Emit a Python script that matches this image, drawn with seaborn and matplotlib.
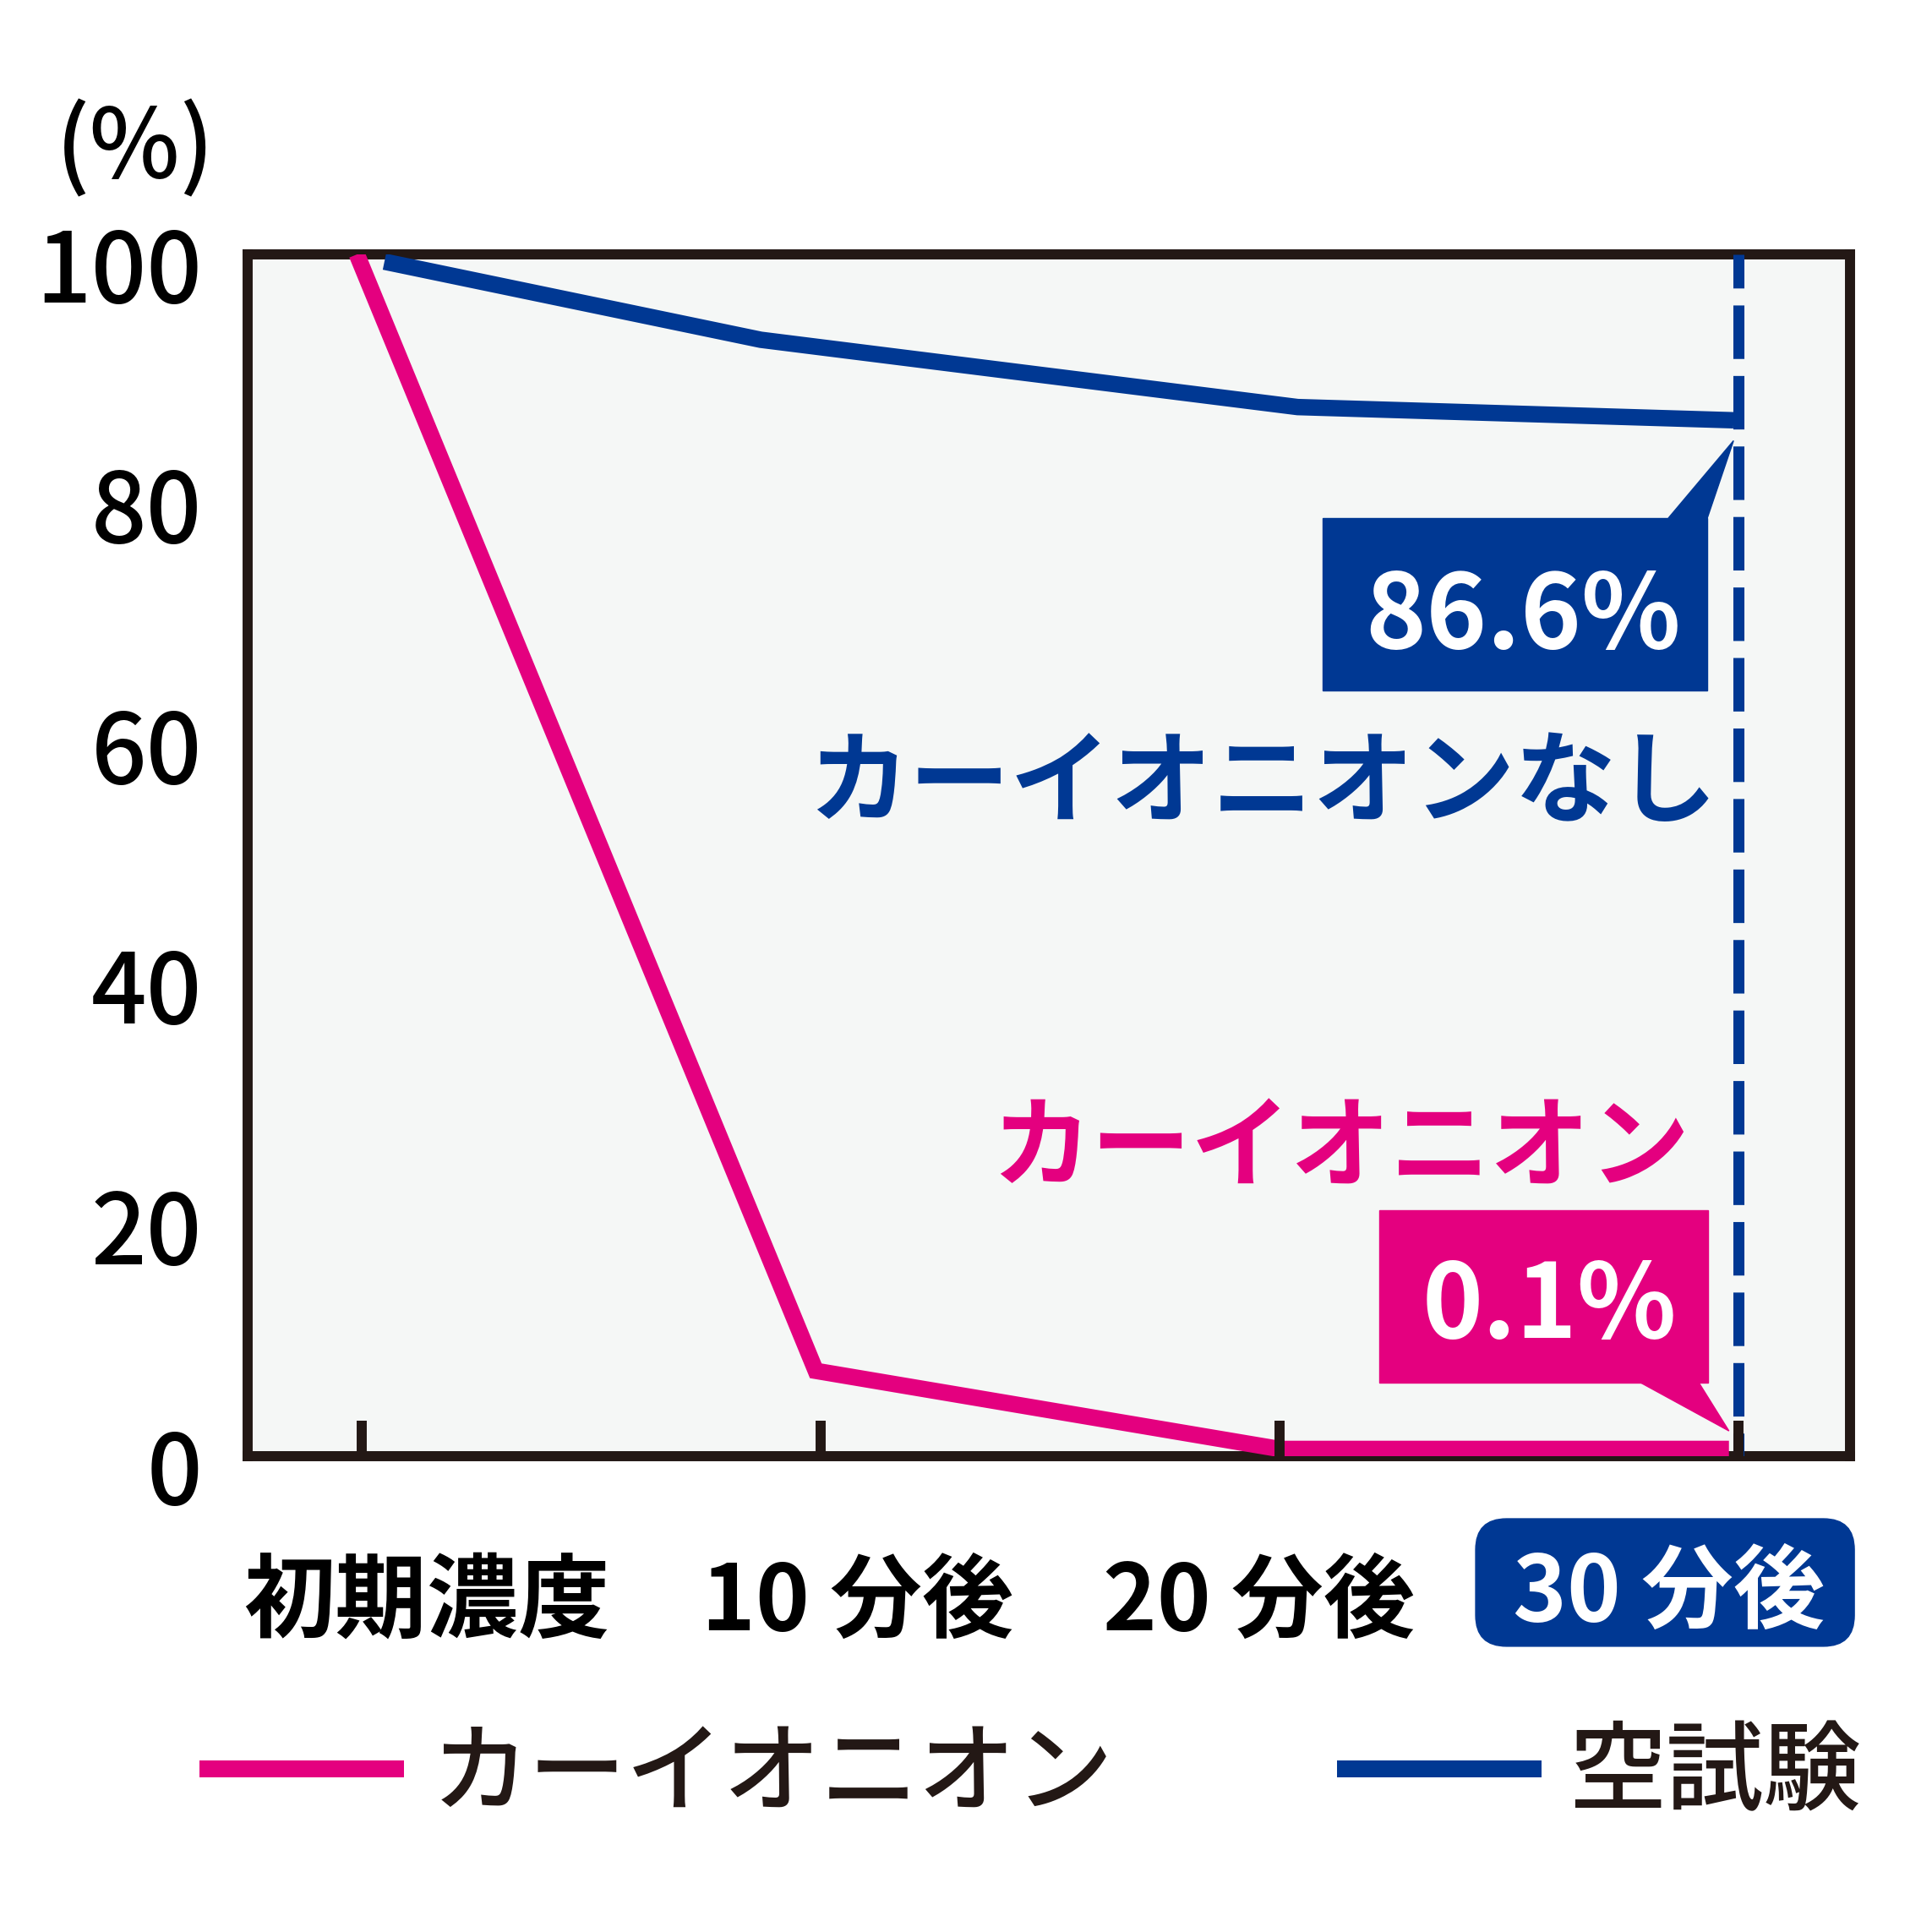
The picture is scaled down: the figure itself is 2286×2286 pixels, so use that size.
import pandas as pd
import matplotlib.pyplot as plt
import seaborn as sns
from matplotlib.patches import Rectangle, Polygon, FancyBboxPatch
from matplotlib.transforms import ScaledTranslation

# データ
series_names = ["カーイオニオン", "空試験"]
ion_minutes = [-0.1, 9.9, 20.0, 29.8]
ion_values = [100, 7.1, 0.6, 0.6]
blank_minutes = [0.5, 8.7, 20.4, 29.9]
blank_values = [99.4, 92.9, 87.3, 86.2]
tick_minutes = [0, 10, 20, 30]
tick_labels = ["初期濃度", "10 分後", "20 分後", "30 分後"]
y_ticks = [0, 20, 40, 60, 80, 100]
ion_result = "0.1%"
blank_result = "86.6%"
blank_note = "カーイオニオンなし"

PINK = "#e4007f"
BLUE = "#003893"
FRAME = "#231815"
BG = "#f5f7f6"

df = pd.concat([
    pd.DataFrame({"minutes": ion_minutes, "value": ion_values, "series": series_names[0]}),
    pd.DataFrame({"minutes": blank_minutes, "value": blank_values, "series": series_names[1]}),
], ignore_index=True)

sns.set_theme(style="ticks")
plt.rcParams["font.family"] = ["Noto Sans CJK JP", "DejaVu Sans"]

fig = plt.figure(figsize=(22.86, 22.86), dpi=100)
ax = fig.add_axes([0.1282, 0.2463, 0.8294, 0.6220])
ax.set_facecolor(BG)

sns.lineplot(data=df, x="minutes", y="value", hue="series", hue_order=series_names,
             palette=[PINK, BLUE], sort=False, estimator=None, linewidth=14,
             solid_joinstyle="miter", solid_capstyle="butt", ax=ax, zorder=2.2)

ax.set_xlim(-2.48, 32.44)
ax.set_ylim(0, 100)

# 30分の破線
ax.axvline(tick_minutes[-1], ymin=1, ymax=0, color=BLUE, lw=9.4,
           linestyle=(1.8, (4.85, 1.54)), zorder=2.1)

# 枠と目盛
for s in ax.spines.values():
    s.set_visible(True)
    s.set_color(FRAME)
    s.set_linewidth(8.6)
    s.set_zorder(1.8)
ax.set_axisbelow(False)
ax.set_xticks(tick_minutes)
ax.set_xticklabels([])
ax.tick_params(axis="x", direction="in", length=30, width=8.6, color=FRAME)
ax.set_yticks(y_ticks)
ax.set_yticklabels([str(v) for v in y_ticks], fontweight="medium")
ax.tick_params(axis="y", length=0, pad=39, labelsize=83, labelcolor="black")
shift_down = ScaledTranslation(0, -0.11, fig.dpi_scale_trans)
for lab in ax.get_yticklabels():
    lab.set_transform(lab.get_transform() + shift_down)
ax.set_xlabel("")
ax.set_ylabel("")
ax.grid(False)

fig.text(0.0700, 0.9225, "(%)", ha="center", va="center", fontsize=82, color="black",
         fontweight="medium")


def to_axes(x, y):
    return ax.transAxes.inverted().transform(ax.transData.transform((x, y)))


# 吹き出し (空試験)
ax.add_patch(Rectangle((0.6709, 0.6371), 0.2400, 0.1435, transform=ax.transAxes,
                       color=BLUE, zorder=4))
tip = to_axes(blank_minutes[-1], blank_values[-1] - 1.7)
ax.add_patch(Polygon([(0.8866, 0.7806), (0.9109, 0.7806), tip], closed=True,
                     transform=ax.transAxes, color=BLUE, zorder=4))
ax.text(0.7959, 0.6970, blank_result, transform=ax.transAxes, ha="center", va="center",
        fontsize=88, fontweight="bold", color="white", zorder=5)
ax.text(0.6334, 0.5583, blank_note, transform=ax.transAxes, ha="center", va="center",
        fontsize=86, fontweight="bold", color=BLUE, zorder=5)

# 吹き出し (カーイオニオン)
ax.add_patch(Rectangle((0.7062, 0.0612), 0.2052, 0.1434, transform=ax.transAxes,
                       color=PINK, zorder=4))
tip = to_axes(ion_minutes[-1], ion_values[-1] + 1.5)
ax.add_patch(Polygon([(0.8692, 0.0612), (0.9056, 0.0612), tip], closed=True,
                     transform=ax.transAxes, color=PINK, zorder=4))
ax.text(0.8122, 0.1231, ion_result, transform=ax.transAxes, ha="center", va="center",
        fontsize=88, fontweight="bold", color="white", zorder=5)
ax.text(0.6820, 0.2543, series_names[0], transform=ax.transAxes, ha="center", va="center",
        fontsize=85, fontweight="bold", color=PINK, zorder=5)

# x軸ラベル
label_x = [0.2209, 0.4440, 0.6514, 0.8640]
fig.add_artist(FancyBboxPatch((0.7638, 0.1479), 0.1960, 0.0660,
                              boxstyle="round,pad=0,rounding_size=0.016",
                              transform=fig.transFigure, color=BLUE))
for i, (lx, lab) in enumerate(zip(label_x, tick_labels)):
    last = i == len(tick_labels) - 1
    fig.text(lx, 0.1745 if last else 0.1700, lab, ha="center", va="center",
             fontsize=78, fontweight="bold", color="white" if last else "black")

# 凡例
handles, labels = ax.get_legend_handles_labels()
ax.get_legend().remove()
leg = fig.legend(handles, labels, loc="center left", bbox_to_anchor=(0.1032, 0.0812),
                 ncol=2, frameon=False, fontsize=83, handlelength=2.10, handletextpad=0.28,
                 columnspacing=2.30, borderpad=0, borderaxespad=0)
for line in leg.get_lines():
    line.set_linewidth(14.4)
    line.set_solid_capstyle("butt")
for t in leg.get_texts():
    t.set_color(FRAME)
    t.set_fontweight("medium")

fig.savefig("out.png", dpi=100, facecolor="white")
